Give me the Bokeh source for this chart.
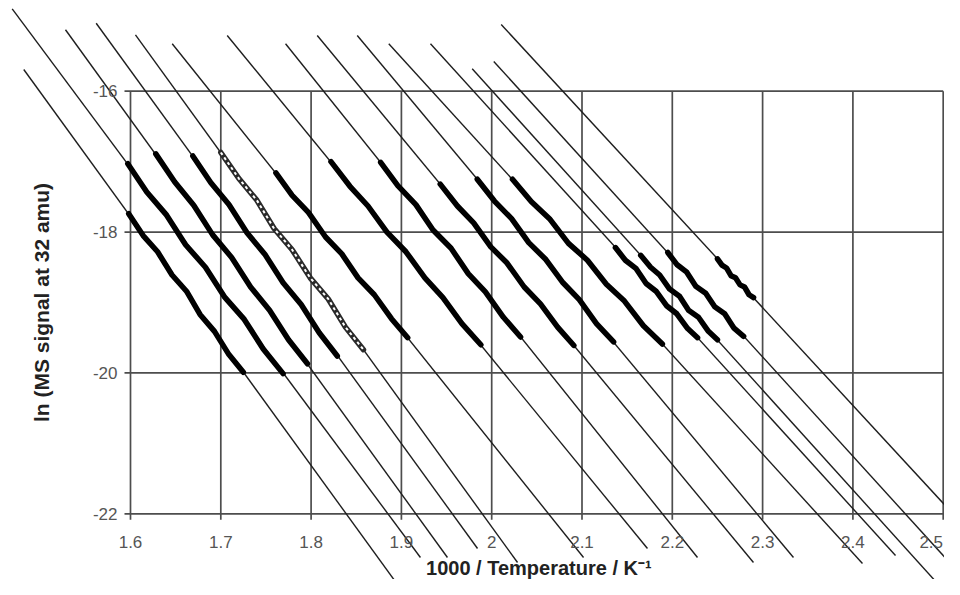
import numpy as np
from bokeh.plotting import figure
from bokeh.models import Range1d
from bokeh.embed import file_html
from bokeh.resources import INLINE
from bokeh.core.properties import value

# ---------------- data ----------------
x_ticks = [1.6, 1.7, 1.8, 1.9, 2.0, 2.1, 2.2, 2.3, 2.4, 2.5]
x_tick_labels = ["1.6", "1.7", "1.8", "1.9", "2", "2.1", "2.2", "2.3", "2.4", "2.5"]
y_ticks = [-16, -18, -20, -22]
y_tick_labels = ["-16", "-18", "-20", "-22"]

x_title = "1000 / Temperature / K\u207b\u00b9"
y_title = "ln (MS signal at 32 amu)"

# extended Arrhenius fit lines (start / end points, data units)
fit_x0 = [1.4818, 1.4690, 1.5280, 1.5620, 1.6055, 1.6462, 1.7071, 1.7717,
          1.8068, 1.8511, 1.8860, 1.9322, 1.9784, 2.0023, 2.0105]
fit_y0 = [-15.692, -14.830, -15.128, -15.035, -15.199, -15.327, -15.209, -15.327,
          -15.209, -15.209, -15.327, -15.327, -15.682, -15.578, -15.053]
fit_x1 = [1.9045, 1.9211, 1.9510, 1.9843, 2.0286, 2.1017, 2.1725, 2.2279,
          2.2899, 2.3342, 2.4106, 2.4472, 2.4937, 2.5524, 2.5524]
fit_y1 = [-23.160, -22.621, -22.621, -22.493, -22.692, -22.621, -22.493, -22.621,
          -22.692, -22.621, -22.706, -22.593, -22.990, -23.331, -22.578]

# measured runs
run01_x = [1.598, 1.614, 1.630, 1.646, 1.662, 1.677, 1.693, 1.709, 1.725]
run01_y = [-17.74, -18.05, -18.28, -18.61, -18.84, -19.17, -19.41, -19.74, -19.99]
run02_x = [1.597, 1.618, 1.640, 1.661, 1.683, 1.704, 1.726, 1.747, 1.769]
run02_y = [-17.03, -17.43, -17.76, -18.18, -18.50, -18.92, -19.24, -19.66, -20.01]
run03_x = [1.628, 1.649, 1.670, 1.691, 1.712, 1.733, 1.754, 1.775, 1.796]
run03_y = [-16.89, -17.29, -17.62, -18.04, -18.36, -18.78, -19.11, -19.53, -19.87]
run04_x = [1.669, 1.689, 1.709, 1.729, 1.749, 1.769, 1.789, 1.809, 1.829]
run04_y = [-16.92, -17.30, -17.61, -18.01, -18.32, -18.72, -19.03, -19.43, -19.76]
run05_x = [1.700, 1.720, 1.740, 1.759, 1.779, 1.799, 1.819, 1.838, 1.858]
run05_y = [-16.87, -17.24, -17.55, -17.95, -18.25, -18.65, -18.95, -19.35, -19.67]
run06_x = [1.761, 1.779, 1.797, 1.816, 1.834, 1.852, 1.870, 1.889, 1.907]
run06_y = [-17.16, -17.48, -17.72, -18.07, -18.31, -18.65, -18.89, -19.23, -19.50]
run07_x = [1.822, 1.843, 1.863, 1.884, 1.905, 1.926, 1.946, 1.967, 1.988]
run07_y = [-17.00, -17.35, -17.63, -18.00, -18.28, -18.65, -18.93, -19.30, -19.60]
run08_x = [1.877, 1.896, 1.916, 1.935, 1.955, 1.974, 1.993, 2.013, 2.032]
run08_y = [-17.01, -17.34, -17.61, -17.97, -18.23, -18.59, -18.85, -19.21, -19.49]
run09_x = [1.943, 1.962, 1.980, 1.999, 2.017, 2.036, 2.054, 2.073, 2.091]
run09_y = [-17.32, -17.63, -17.87, -18.21, -18.44, -18.78, -19.02, -19.35, -19.61]
run10_x = [1.984, 2.003, 2.022, 2.041, 2.060, 2.079, 2.097, 2.116, 2.135]
run10_y = [-17.25, -17.56, -17.81, -18.15, -18.39, -18.72, -18.96, -19.30, -19.56]
run11_x = [2.023, 2.044, 2.064, 2.085, 2.106, 2.127, 2.147, 2.168, 2.189]
run11_y = [-17.25, -17.57, -17.81, -18.16, -18.40, -18.74, -18.98, -19.33, -19.59]
run12_x = [2.137, 2.148, 2.160, 2.171, 2.182, 2.194, 2.205, 2.217, 2.228]
run12_y = [-18.22, -18.40, -18.52, -18.73, -18.84, -19.05, -19.16, -19.37, -19.50]
run13_x = [2.165, 2.176, 2.186, 2.197, 2.208, 2.218, 2.229, 2.240, 2.250]
run13_y = [-18.33, -18.50, -18.61, -18.81, -18.91, -19.11, -19.21, -19.41, -19.53]
run14_x = [2.195, 2.205, 2.216, 2.226, 2.237, 2.247, 2.258, 2.268, 2.279]
run14_y = [-18.29, -18.46, -18.57, -18.77, -18.87, -19.06, -19.16, -19.36, -19.48]
run15_x = [2.250, 2.255, 2.260, 2.265, 2.270, 2.275, 2.280, 2.285, 2.290]
run15_y = [-18.38, -18.47, -18.51, -18.62, -18.65, -18.75, -18.78, -18.89, -18.93]

solid_runs = [(run01_x, run01_y), (run02_x, run02_y), (run03_x, run03_y),
              (run04_x, run04_y), (run06_x, run06_y), (run07_x, run07_y),
              (run08_x, run08_y), (run09_x, run09_y), (run10_x, run10_y),
              (run11_x, run11_y), (run12_x, run12_y), (run13_x, run13_y),
              (run14_x, run14_y), (run15_x, run15_y)]
hollow_runs = [(run05_x, run05_y)]

# ---------------- layout ----------------
W, H = 944, 579
PX_X = 903.0     # pixels per x unit
PX_Y = 70.43     # pixels per y unit
FX, FY = 130.0, 90.7   # position of (1.6, -16) inside the canvas, px

x_lo = 1.6 - FX / PX_X
x_hi = x_lo + W / PX_X
y_hi = -16 + FY / PX_Y
y_lo = y_hi - H / PX_Y

p = figure(width=W, height=H, x_range=Range1d(x_lo, x_hi), y_range=Range1d(y_lo, y_hi),
           output_backend="svg", toolbar_location=None,
           x_axis_location=None, y_axis_location=None, min_border=0)
p.grid.visible = False
p.outline_line_color = None
p.background_fill_color = "white"
p.border_fill_color = "white"

tick_len_x = 6 / PX_X
tick_len_y = 6 / PX_Y
xmin, xmax = min(x_ticks), max(x_ticks)
ymin, ymax = min(y_ticks), max(y_ticks)

# grid + frame (with outside ticks)
p.segment(x0=x_ticks, y0=[ymin - tick_len_y] * len(x_ticks), x1=x_ticks, y1=[ymax] * len(x_ticks),
          line_color="#4d4d4d", line_width=1.7)
p.segment(x0=[xmin - tick_len_x] * len(y_ticks), y0=y_ticks, x1=[xmax] * len(y_ticks), y1=y_ticks,
          line_color="#4d4d4d", line_width=1.7)

# fit lines
p.segment(x0=fit_x0, y0=fit_y0, x1=fit_x1, y1=fit_y1, line_color="#1e1e1e", line_width=1.4)

# data
p.multi_line(xs=[r[0] for r in solid_runs], ys=[r[1] for r in solid_runs],
             line_color="black", line_width=5.5, line_join="round", line_cap="round")
p.multi_line(xs=[r[0] for r in hollow_runs], ys=[r[1] for r in hollow_runs],
             line_color="#2a2a2a", line_width=5.5, line_join="round", line_cap="round")
p.multi_line(xs=[r[0] for r in hollow_runs], ys=[r[1] for r in hollow_runs],
             line_color="white", line_width=2.0, line_dash="3 3")

# tick labels
font = value("Liberation Sans")
label_dx = [0.0] * (len(x_ticks) - 1) + [-12 / PX_X]   # keep last label inside the canvas
p.text(x=[t + d for t, d in zip(x_ticks, label_dx)], y=[ymin - 28 / PX_Y] * len(x_ticks),
       text=x_tick_labels,
       text_font=font, text_font_size="17px", text_color="#555555",
       text_align="center", text_baseline="middle")
p.text(x=[xmin - 13 / PX_X] * len(y_ticks), y=y_ticks, text=y_tick_labels,
       text_font=font, text_font_size="17px", text_color="#555555",
       text_align="right", text_baseline="middle")

# axis titles
p.text(x=[(xmin + xmax) / 2 + 2 / PX_X], y=[ymin - 54 / PX_Y], text=[x_title],
       text_font=font, text_font_size="20px", text_font_style="bold", text_color="#222222",
       text_align="center", text_baseline="middle")
p.text(x=[xmin - 89 / PX_X], y=[(ymin + ymax) / 2], text=[y_title], angle=np.pi / 2,
       text_font=font, text_font_size="21px", text_font_style="bold", text_color="#222222",
       text_align="center", text_baseline="middle")

open("out.html", "w").write(file_html(p, INLINE))
